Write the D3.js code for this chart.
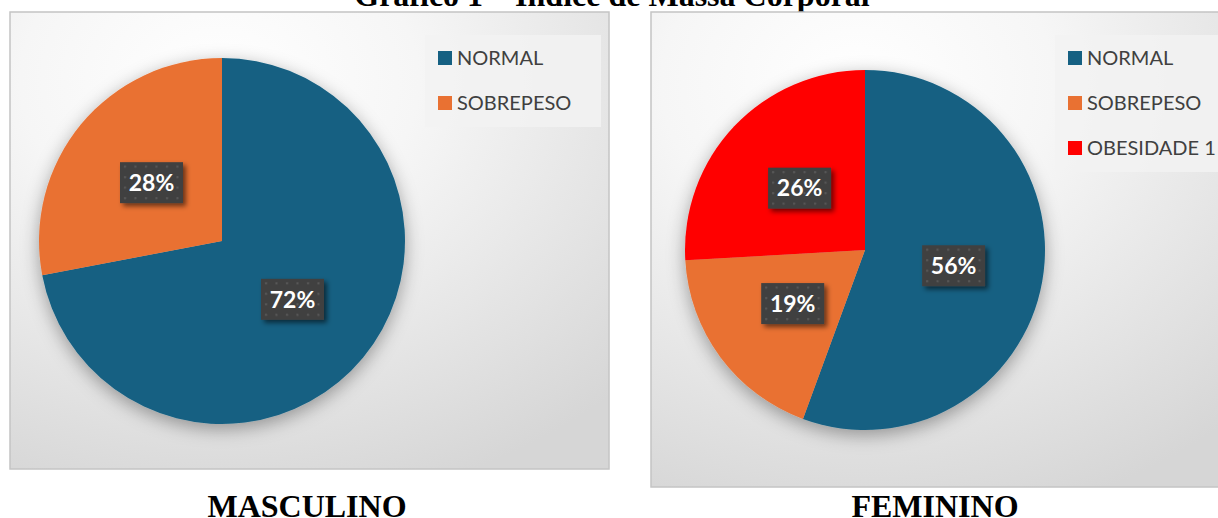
<!DOCTYPE html>
<html>
<head>
<meta charset="utf-8">
<script src="https://cdn.jsdelivr.net/npm/d3@7"></script>
<style>
  html, body { margin: 0; padding: 0; background: #ffffff; overflow: hidden; }
  svg { display: block; }
</style>
</head>
<body>
<svg id="chart" width="1218" height="518"></svg>
<script>
// ---- data ----
const chartTitle = "Gráfico 1 – Índice de Massa Corporal";
const maleCategories = ["NORMAL", "SOBREPESO"];
const maleValues = [72, 28];
const femaleCategories = ["NORMAL", "SOBREPESO", "OBESIDADE 1"];
const femaleValues = [55.6, 18.5, 25.9];
const panelTitles = ["MASCULINO", "FEMININO"];
const sliceColors = ["#156082", "#E97132", "#FF0000"];

// ---- layout ----
const panels = [
  { cats: maleCategories, vals: maleValues, title: panelTitles[0],
    x: 10, y: 12, w: 599, h: 457, cx: 222, cy: 241, r: 183,
    legend: { x: 425, y: 35, w: 176, h: 92 }, titleX: 307 },
  { cats: femaleCategories, vals: femaleValues, title: panelTitles[1],
    x: 651, y: 12, w: 590, h: 475, cx: 865, cy: 250, r: 180,
    legend: { x: 1055, y: 35, w: 170, h: 137 }, titleX: 935 }
];

const svg = d3.select("#chart");
const defs = svg.append("defs");

// background gradient
const bg = defs.append("radialGradient").attr("id", "bgGrad")
  .attr("cx", "35%").attr("cy", "15%").attr("r", "95%");
bg.append("stop").attr("offset", "0%").attr("stop-color", "#ffffff");
bg.append("stop").attr("offset", "35%").attr("stop-color", "#f6f6f6");
bg.append("stop").attr("offset", "100%").attr("stop-color", "#d6d6d6");

// pie shadow
const ps = defs.append("filter").attr("id", "pieShadow")
  .attr("x", "-30%").attr("y", "-30%").attr("width", "160%").attr("height", "160%");
ps.append("feDropShadow").attr("dx", 0).attr("dy", 5).attr("stdDeviation", 9)
  .attr("flood-color", "#000").attr("flood-opacity", 0.35);

// label shadow
const ls = defs.append("filter").attr("id", "lblShadow")
  .attr("x", "-30%").attr("y", "-30%").attr("width", "170%").attr("height", "170%");
ls.append("feDropShadow").attr("dx", 3).attr("dy", 3).attr("stdDeviation", 2.5)
  .attr("flood-color", "#000").attr("flood-opacity", 0.55);

// dotted label pattern
const pat = defs.append("pattern").attr("id", "dots")
  .attr("patternUnits", "userSpaceOnUse").attr("width", 10.5).attr("height", 10.5);
pat.append("rect").attr("width", 10.5).attr("height", 10.5).attr("fill", "#404040");
pat.append("rect").attr("x", 4).attr("y", 4).attr("width", 2).attr("height", 2).attr("fill", "#5a5a5a");

// title (partially cut off at top)
svg.append("text")
  .attr("x", 612).attr("y", 6)
  .attr("text-anchor", "middle")
  .attr("font-family", "'Liberation Serif', 'Times New Roman', serif")
  .attr("font-weight", "bold").attr("font-size", 32)
  .attr("fill", "#000")
  .text(chartTitle);

const pie = d3.pie().sort(null).value(d => d.value);

panels.forEach((p, pi) => {
  const g = svg.append("g");
  // panel background
  g.append("rect")
    .attr("x", p.x).attr("y", p.y).attr("width", p.w).attr("height", p.h)
    .attr("fill", "url(#bgGrad)")
    .attr("stroke", "#c4c4c4").attr("stroke-width", 1.5);

  const data = p.cats.map((c, i) => ({ cat: c, value: p.vals[i], color: sliceColors[i] }));
  const total = d3.sum(p.vals);
  const arcs = pie(data);
  const arc = d3.arc().innerRadius(0).outerRadius(p.r);

  const pg = g.append("g").attr("transform", `translate(${p.cx},${p.cy})`);
  pg.append("g").attr("filter", "url(#pieShadow)")
    .selectAll("path").data(arcs).join("path")
    .attr("d", arc)
    .attr("fill", d => d.data.color);

  // data labels
  const lg = pg.selectAll("g.lbl").data(arcs).join("g").attr("class", "lbl")
    .attr("transform", d => `translate(${arc.centroid(d)})`);
  lg.append("rect")
    .attr("x", -31.5).attr("y", -20.5).attr("width", 63).attr("height", 41)
    .attr("fill", "url(#dots)")
    .attr("filter", "url(#lblShadow)");
  lg.append("text")
    .attr("text-anchor", "middle").attr("dy", "0.36em")
    .attr("font-family", "Lato, 'Open Sans', sans-serif")
    .attr("font-weight", "bold").attr("font-size", 23)
    .attr("fill", "#ffffff")
    .text(d => Math.round(d.data.value / total * 100) + "%");

  // legend
  const L = p.legend;
  g.append("rect").attr("x", L.x).attr("y", L.y).attr("width", L.w).attr("height", L.h)
    .attr("fill", "#f2f2f2").attr("opacity", 0.85);
  const ly = d3.scalePoint().domain(p.cats).range([L.y + 23, L.y + 23 + 45 * (p.cats.length - 1)]);
  const items = g.selectAll("g.leg").data(data).join("g").attr("class", "leg")
    .attr("transform", d => `translate(${L.x + 13},${ly(d.cat)})`);
  items.append("rect").attr("x", 0).attr("y", -7).attr("width", 14).attr("height", 14)
    .attr("fill", d => d.color);
  items.append("text").attr("x", 19).attr("y", 0).attr("dy", "0.36em")
    .attr("font-family", "Lato, 'Open Sans', sans-serif")
    .attr("font-size", 20).attr("fill", "#404040")
    .text(d => d.cat);

  // panel title
  svg.append("text")
    .attr("x", p.titleX).attr("y", 517)
    .attr("text-anchor", "middle")
    .attr("font-family", "'Liberation Serif', 'Times New Roman', serif")
    .attr("font-weight", "bold").attr("font-size", 32)
    .attr("fill", "#000")
    .text(p.title);
});
</script>
</body>
</html>
